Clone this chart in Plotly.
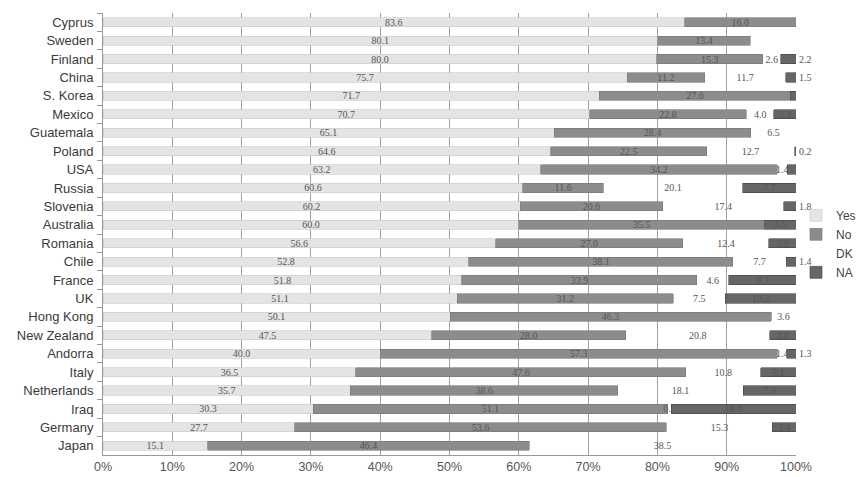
import plotly.graph_objects as go

countries = ["Cyprus", "Sweden", "Finland", "China", "S. Korea", "Mexico", "Guatemala",
             "Poland", "USA", "Russia", "Slovenia", "Australia", "Romania", "Chile",
             "France", "UK", "Hong Kong", "New Zealand", "Andorra", "Italy",
             "Netherlands", "Iraq", "Germany", "Japan"]
yes = [83.6, 80.1, 80.0, 75.7, 71.7, 70.7, 65.1, 64.6, 63.2, 60.6, 60.2, 60.0, 56.6,
       52.8, 51.8, 51.1, 50.1, 47.5, 40.0, 36.5, 35.7, 30.3, 27.7, 15.1]
no = [16.0, 13.4, 15.3, 11.2, 27.6, 22.8, 28.4, 22.5, 34.2, 11.6, 20.6, 35.5, 27.0,
      38.1, 33.9, 31.2, 46.3, 28.0, 57.3, 47.6, 38.6, 51.1, 53.6, 46.4]
dk = [0, 6.6, 2.6, 11.7, 0, 4.0, 6.5, 12.7, 1.4, 20.1, 17.4, 0, 12.4,
      7.7, 4.6, 7.5, 3.6, 20.8, 1.4, 10.8, 18.1, 0.5, 15.3, 38.5]
na = [0, 0, 2.2, 1.5, 0.8, 3.2, 0, 0.2, 1.3, 7.7, 1.8, 4.5, 3.9,
      1.4, 9.7, 10.2, 0, 3.8, 1.3, 5.1, 7.6, 18.0, 3.4, 0]
tick_vals = [0, 10, 20, 30, 40, 50, 60, 70, 80, 90, 100]

label_font = dict(family="Liberation Serif", size=10, color="#555555")


def labels(vals):
    return [f"{v:.1f}" if v > 0 else "" for v in vals]


fig = go.Figure()
series = [
    ("Yes", yes, "#e4e4e4", "#c8c8c8"),
    ("No", no, "#8c8c8c", "#777777"),
    ("DK", dk, "rgba(255,255,255,0)", "rgba(255,255,255,0)"),
    ("NA", na, "#666666", "#444444"),
]
for name, vals, col, lcol in series:
    if name == "NA":
        pos = ["outside" if v < 3 else "inside" for v in vals]
    else:
        pos = "inside"
    fig.add_trace(go.Bar(
        name=name, y=countries, x=vals, orientation="h",
        marker=dict(color=col, line=dict(color=lcol, width=0.6)),
        text=labels(vals), textposition=pos, insidetextanchor="middle",
        textangle=0, constraintext="none", cliponaxis=False,
        textfont=label_font, insidetextfont=label_font, outsidetextfont=label_font,
        hoverinfo="skip",
    ))

# the page body adds an 8px offset, so the figure is sized to fit the window
fig.update_layout(
    barmode="stack", barnorm="percent", bargap=0.5,
    width=858, height=469,
    margin=dict(l=95, r=70, t=5, b=22, autoexpand=False),
    paper_bgcolor="white", plot_bgcolor="white",
    font=dict(family="Liberation Sans", size=11, color="#333333"),
    legend=dict(x=1.0, y=0.575, xanchor="left", yanchor="top",
                traceorder="normal", itemwidth=30,
                font=dict(size=12, color="#444444"),
                bgcolor="rgba(0,0,0,0)", tracegroupgap=0),
    showlegend=True,
)
fig.update_xaxes(range=[0, 100], tickvals=tick_vals,
                 ticktext=[f"{v}%" for v in tick_vals],
                 showgrid=True, gridcolor="#a0a0a0", gridwidth=1,
                 showline=True, linecolor="#999999", zeroline=False,
                 tickfont=dict(size=12.5, color="#555555"))
fig.update_yaxes(autorange="reversed", showline=True, linecolor="#999999",
                 ticks="outside", tickson="boundaries", ticklen=5, tickcolor="#999999",
                 ticklabelstandoff=6,
                 tickfont=dict(size=13, color="#3a3a3a"))

fig.write_html("out.html")
